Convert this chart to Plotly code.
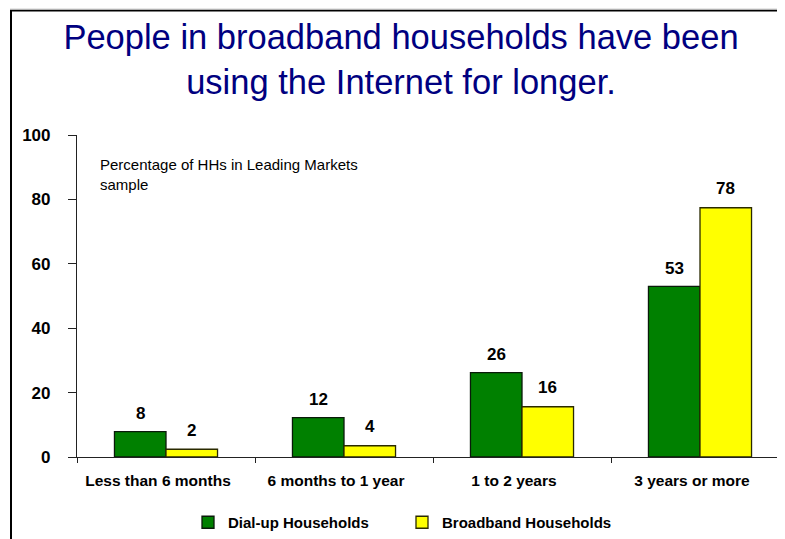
import plotly.graph_objects as go

categories = ["Less than 6 months", "6 months to 1 year", "1 to 2 years", "3 years or more"]
dialup_values = [7.9, 12.2, 26.2, 53.0]
broadband_values = [2.4, 3.5, 15.6, 77.4]
dialup_labels = ["8", "12", "26", "53"]
broadband_labels = ["2", "4", "16", "78"]
y_ticks = [0, 20, 40, 60, 80, 100]

FONT = "Liberation Sans, Arial, Helvetica, sans-serif"

# page body has an 8px margin, so the figure is drawn 8px in from the top-left
OFF = 8
W, H = 785 - OFF, 539 - OFF
L, R, T, B = 77 - OFF, 0, 135 - OFF, 80
PW, PH = W - L - R, H - T - B


def px_x(p):
    return (p - OFF - L) / PW


def px_y(p):
    return (H - B - (p - OFF)) / PH


fig = go.Figure()
fig.add_trace(go.Bar(
    name="Dial-up Households", x=categories, y=dialup_values,
    marker=dict(color="#008000", line=dict(color="#0a1a0a", width=1.3)),
))
fig.add_trace(go.Bar(
    name="Broadband Households", x=categories, y=broadband_values,
    marker=dict(color="#FFFF00", line=dict(color="#2a2a00", width=1.3)),
))

annotations = []
cat_px = 178
bar_px = cat_px * (1 - 0.421) / 2
lab_font = dict(family=FONT, size=17, color="black", weight="bold")
for cat, v, t in zip(categories, dialup_values, dialup_labels):
    annotations.append(dict(x=cat, y=v, text=t, showarrow=False, xref="x", yref="y",
                            xshift=-bar_px / 2, yshift=18, yanchor="middle", font=lab_font))
for cat, v, t in zip(categories, broadband_values, broadband_labels):
    annotations.append(dict(x=cat, y=v, text=t, showarrow=False, xref="x", yref="y",
                            xshift=bar_px / 2, yshift=19, yanchor="middle", font=lab_font))

annotations.append(dict(
    x=px_x(98), y=px_y(154), xref="paper", yref="paper", xanchor="left", yanchor="top",
    align="left", showarrow=False,
    text="Percentage of HHs in Leading Markets<br>sample",
    font=dict(family=FONT, size=15, color="black"),
))

shapes = [
    dict(type="line", xref="paper", yref="paper", x0=px_x(10), x1=px_x(790),
         y0=px_y(8.5), y1=px_y(8.5), line=dict(color="#9a9a9a", width=1)),
    dict(type="line", xref="paper", yref="paper", x0=px_x(10), x1=px_x(790),
         y0=px_y(10), y1=px_y(10), line=dict(color="black", width=1.5)),
    dict(type="line", xref="paper", yref="paper", x0=px_x(11), x1=px_x(11),
         y0=px_y(9.5), y1=px_y(545), line=dict(color="black", width=2)),
]

fig.update_layout(
    width=W, height=H,
    margin=dict(l=L, r=R, t=T, b=B),
    paper_bgcolor="white", plot_bgcolor="white",
    barmode="group", bargap=0.421, bargroupgap=0,
    title=dict(
        text="People in broadband households have been<br>using the Internet for longer.",
        x=(401 - OFF) / W, xref="container", xanchor="center",
        y=1 - 41 / H, yref="container", yanchor="top",
        font=dict(family=FONT, size=34.5, color="#000080"),
    ),
    xaxis=dict(
        range=[-0.5, -0.5 + PW / cat_px], showgrid=False, zeroline=False,
        showline=True, linecolor="#222", linewidth=1.2,
        ticks="outside", tickson="boundaries", ticklen=5, tickcolor="#222", tickwidth=1.2,
        ticklabelstandoff=9, ticklabelshift=-8,
        tickfont=dict(family=FONT, size=15.5, color="black", weight="bold"),
    ),
    yaxis=dict(
        range=[0, 100], tickvals=y_ticks, showgrid=False, zeroline=False,
        showline=True, linecolor="#222", linewidth=1.2,
        ticks="outside", ticklen=8, tickcolor="#222", tickwidth=1.2,
        ticklabelstandoff=14,
        tickfont=dict(family=FONT, size=17, color="black", weight="bold"),
    ),
    showlegend=True,
    legend=dict(
        orientation="h", x=px_x(188), y=px_y(525), xanchor="left", yanchor="middle",
        entrywidth=169, entrywidthmode="pixels",
        font=dict(family=FONT, size=15, color="black", weight="bold"),
        bgcolor="rgba(0,0,0,0)",
    ),
    annotations=annotations,
    shapes=shapes,
)

fig.write_html("out.html")
